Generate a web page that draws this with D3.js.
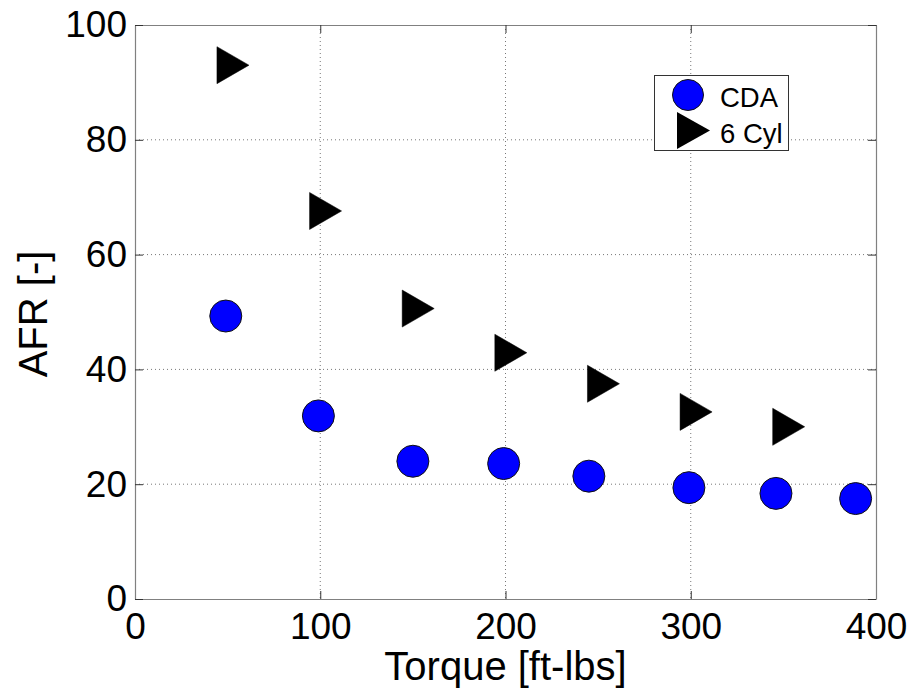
<!DOCTYPE html>
<html>
<head>
<meta charset="utf-8">
<script src="https://cdn.jsdelivr.net/npm/d3@7"></script>
<style>
  html, body { margin: 0; padding: 0; background: #fff; }
  svg { display: block; font-family: "Liberation Sans", Arial, sans-serif; }
</style>
</head>
<body>
<svg id="chart" width="913" height="692"></svg>
<script>
// Air-fuel ratio vs. torque for two engine configurations
const cdaTorque = [49, 99, 150, 199, 245, 299, 346, 389];
const cdaAFR    = [49.3, 31.9, 24.0, 23.6, 21.4, 19.4, 18.4, 17.5];
const cylTorque = [50, 100, 150, 200, 250, 300, 350];
const cylAFR    = [93.0, 67.6, 50.6, 42.9, 37.5, 32.6, 30.0];
const xTicks = [0, 100, 200, 300, 400];
const yTicks = [0, 20, 40, 60, 80, 100];
const seriesNames = ["CDA", "6 Cyl"];

const svg = d3.select("#chart");
const plot = { left: 135, right: 876, top: 25, bottom: 599 };

const x = d3.scaleLinear().domain([0, 400]).range([plot.left, plot.right]);
const y = d3.scaleLinear().domain([0, 100]).range([plot.bottom, plot.top]);

// dotted grid
const grid = svg.append("g");
grid.selectAll(".gx").data(xTicks.slice(1, -1)).join("line")
  .attr("x1", d => x(d)).attr("x2", d => x(d))
  .attr("y1", plot.top).attr("y2", plot.bottom)
  .attr("stroke", "#777").attr("stroke-width", 1).attr("stroke-dasharray", "1,3");
grid.selectAll(".gy").data(yTicks.slice(1, -1)).join("line")
  .attr("y1", d => y(d)).attr("y2", d => y(d))
  .attr("x1", plot.left).attr("x2", plot.right)
  .attr("stroke", "#777").attr("stroke-width", 1).attr("stroke-dasharray", "1,3");

// axes with inward ticks on all four sides
const tickLen = 8;
const fmt = d3.format("d");
const axB = svg.append("g").attr("transform", `translate(0,${plot.bottom})`)
  .call(d3.axisBottom(x).tickValues(xTicks).tickFormat(fmt).tickSizeInner(-tickLen).tickSizeOuter(0).tickPadding(14));
const axT = svg.append("g").attr("transform", `translate(0,${plot.top})`)
  .call(d3.axisTop(x).tickValues(xTicks).tickFormat("").tickSizeInner(-tickLen).tickSizeOuter(0));
const axL = svg.append("g").attr("transform", `translate(${plot.left},0)`)
  .call(d3.axisLeft(y).tickValues(yTicks).tickFormat(fmt).tickSizeInner(-tickLen).tickSizeOuter(0).tickPadding(8));
const axR = svg.append("g").attr("transform", `translate(${plot.right},0)`)
  .call(d3.axisRight(y).tickValues(yTicks).tickFormat("").tickSizeInner(-tickLen).tickSizeOuter(0));

[axB, axT, axL, axR].forEach(a => {
  a.select(".domain").attr("stroke", "#808080").attr("stroke-width", 1.2);
  a.selectAll(".tick line").attr("stroke", "#333");
  a.selectAll(".tick text").attr("fill", "#000").attr("font-size", 37)
    .attr("font-family", "Liberation Sans, Arial, sans-serif");
});

// axis titles
svg.append("text")
  .attr("x", (plot.left + plot.right) / 2).attr("y", 680)
  .attr("text-anchor", "middle").attr("font-size", 40).attr("fill", "#000")
  .text("Torque [ft-lbs]");
svg.append("text")
  .attr("transform", `translate(47,${(plot.top + plot.bottom) / 2 + 2}) rotate(-90)`)
  .attr("text-anchor", "middle").attr("font-size", 40).attr("fill", "#000")
  .text("AFR [-]");

// right-pointing triangle centred on its centroid
const triW = 32, triH = 37;
const triPath = `M${-triW / 3},${-triH / 2}L${2 * triW / 3},0L${-triW / 3},${triH / 2}Z`;

const cylData = cylTorque.map((t, i) => ({ t, v: cylAFR[i] }));
const cdaData = cdaTorque.map((t, i) => ({ t, v: cdaAFR[i] }));

svg.append("g").selectAll("path").data(cylData).join("path")
  .attr("d", triPath)
  .attr("transform", d => `translate(${x(d.t)},${y(d.v)})`)
  .attr("fill", "#000").attr("stroke", "#000").attr("stroke-width", 0.5);

svg.append("g").selectAll("circle").data(cdaData).join("circle")
  .attr("cx", d => x(d.t)).attr("cy", d => y(d.v)).attr("r", 16)
  .attr("fill", "#0000ff").attr("stroke", "#111").attr("stroke-width", 1);

// legend
const lg = svg.append("g");
lg.append("rect").attr("x", 654.5).attr("y", 75.5).attr("width", 134).attr("height", 75)
  .attr("fill", "#fff").attr("stroke", "#333").attr("stroke-width", 1);
lg.append("circle").attr("cx", 688).attr("cy", 95).attr("r", 15.5)
  .attr("fill", "#0000ff").attr("stroke", "#111").attr("stroke-width", 1);
lg.append("path").attr("d", `M677,112L710,130.5L677,149Z`).attr("fill", "#000");
lg.selectAll("text").data(seriesNames).join("text")
  .attr("x", 720).attr("y", (d, i) => i === 0 ? 106.5 : 143)
  .attr("font-size", 27.5).attr("fill", "#000")
  .text(d => d);
</script>
</body>
</html>
